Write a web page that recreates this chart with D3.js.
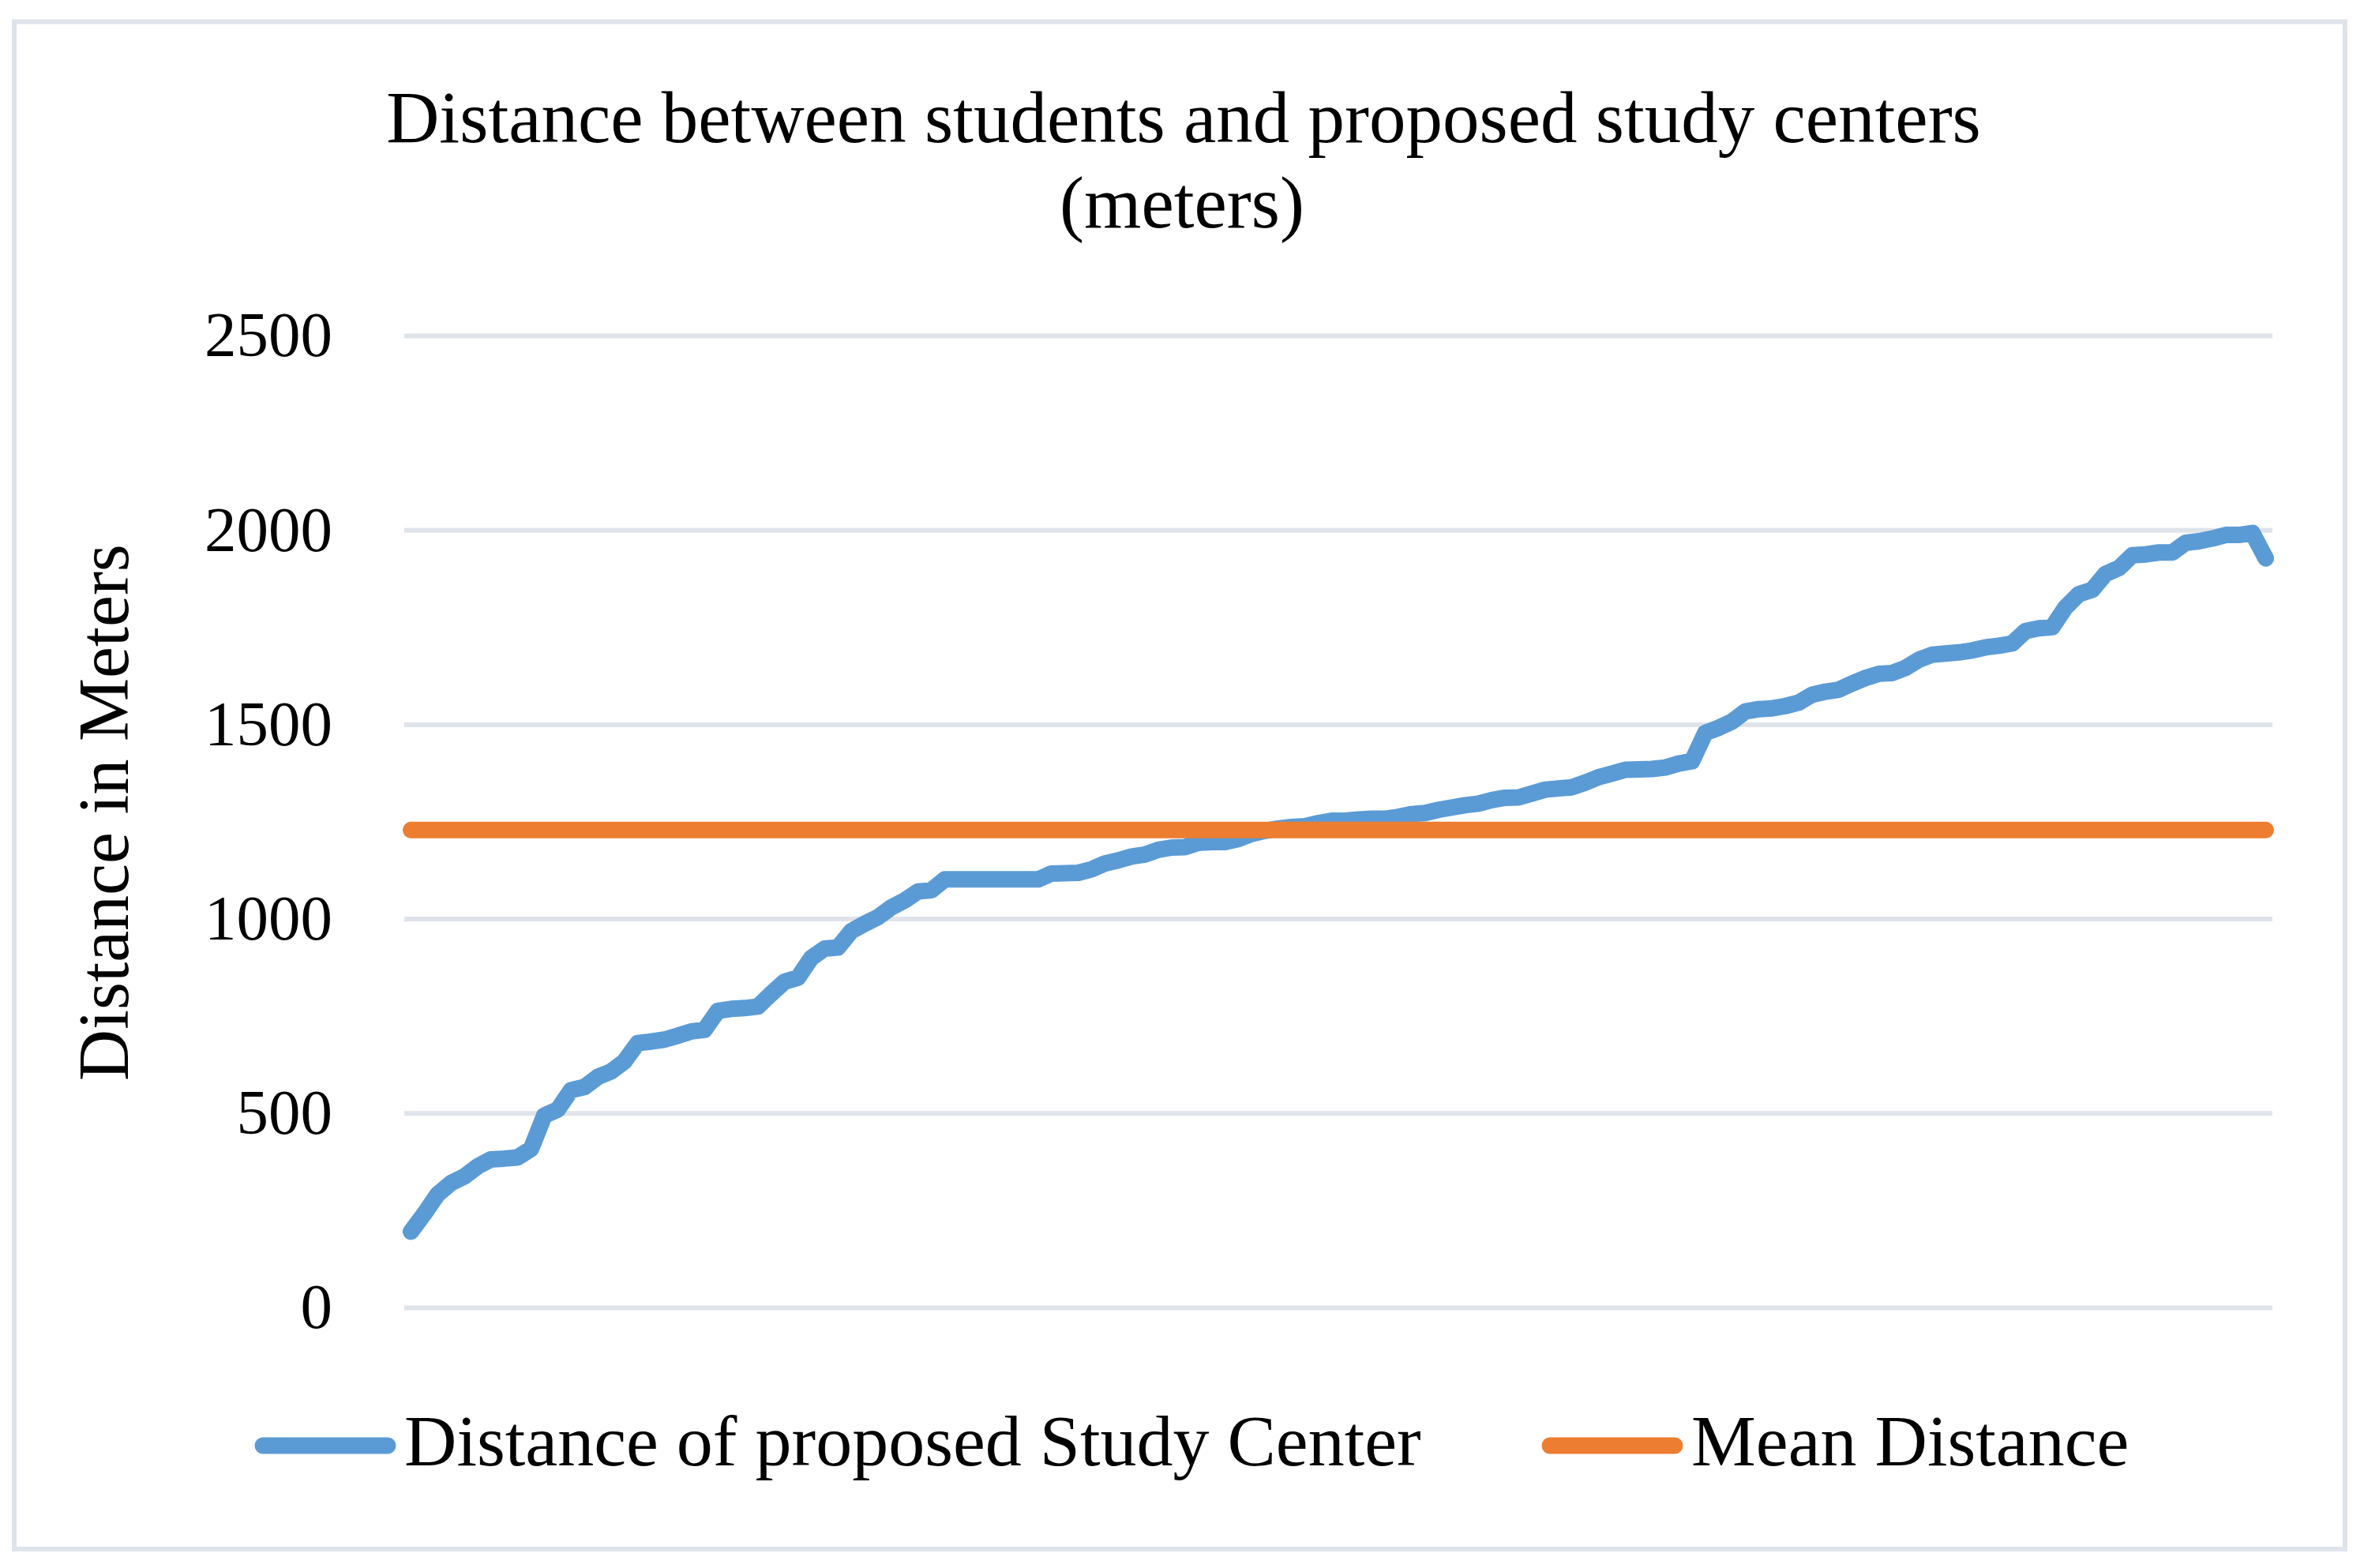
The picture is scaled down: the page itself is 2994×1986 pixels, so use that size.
<!DOCTYPE html>
<html>
<head>
<meta charset="utf-8">
<script src="https://cdn.jsdelivr.net/npm/d3@7"></script>
<style>
  body { margin: 0; background: #fff; }
  text { font-family: "Liberation Serif", "Times New Roman", serif; fill: #000; }
  .grid line { stroke: #dfe3ea; stroke-width: 6; }
</style>
</head>
<body>
<script>
// data: one value per student, sorted (last one drops)
var categories = d3.range(1, 141)
var distances = [
  195, 241, 291, 320, 337, 363, 381, 383, 386, 408,
  494, 509, 559, 567, 593, 607, 633, 680, 684, 689,
  699, 710, 714, 763, 768, 770, 774, 807, 838, 848,
  899, 923, 926, 968, 987, 1004, 1029, 1047, 1070, 1073,
  1101, 1101, 1101, 1101, 1101, 1101, 1101, 1101, 1116, 1117,
  1118, 1127, 1142, 1150, 1160, 1165, 1177, 1183, 1184, 1195,
  1197, 1197, 1205, 1218, 1226, 1232, 1236, 1238, 1246, 1252,
  1252, 1255, 1257, 1257, 1262, 1269, 1272, 1280, 1286, 1292,
  1296, 1305, 1311, 1312, 1322, 1332, 1335, 1338, 1350, 1364,
  1373, 1383, 1384, 1385, 1389, 1399, 1405, 1478, 1491, 1507,
  1533, 1539, 1541, 1547, 1556, 1576, 1584, 1589, 1605, 1619,
  1630, 1632, 1645, 1666, 1679, 1682, 1685, 1690, 1698, 1702,
  1708, 1740, 1747, 1750, 1801, 1835, 1846, 1887, 1902, 1935,
  1937, 1942, 1942, 1967, 1971, 1978, 1987, 1987, 1992, 1927
]
var meanDistance = 1228
var yTicks = [0, 500, 1000, 1500, 2000, 2500]
var seriesNames = ['Distance of proposed Study Center', 'Mean Distance']
var seriesColors = ['#5b9bd5', '#ed7d31']

var w = 2994,
    h = 1986,
    plotLeft = 512,
    plotRight = 2878,
    plotTop = 425, //y of 2500
    plotBottom = 1656, //y of 0
    lineWidth = 21

var svg = d3.select('body').append('svg')
    .attr('width', w)
    .attr('height', h)

//outer chart border
svg.append('rect')
    .attr('x', 18)
    .attr('y', 27.5)
    .attr('width', 2952)
    .attr('height', 1934.5)
    .attr('fill', '#fff')
    .attr('stroke', '#dfe3ea')
    .attr('stroke-width', 6)

var x = d3.scalePoint()
    .domain(categories)
    .range([plotLeft, plotRight])
    .padding(0.5)

var y = d3.scaleLinear()
    .domain([0, 2500])
    .range([plotBottom, plotTop])

//gridlines + tick labels
var yAxis = svg.append('g')
    .attr('class', 'grid')
    .attr('transform', 'translate(' + plotLeft + ',0)')
    .call(d3.axisLeft(y)
        .tickValues(yTicks)
        .tickSize(-(plotRight - plotLeft))
        .tickPadding(91)
        .tickFormat(d3.format('d')))

yAxis.select('.domain').remove()
yAxis.selectAll('text')
    .style('font-size', '81px')
    .style('font-family', '"Liberation Serif", "Times New Roman", serif')
    .attr('fill', '#000')

var line = d3.line()
    .x(function(d, i) { return x(categories[i]) })
    .y(function(d) { return y(d) })

svg.append('path')
    .datum(distances)
    .attr('d', line)
    .attr('fill', 'none')
    .attr('stroke', seriesColors[0])
    .attr('stroke-width', lineWidth)
    .attr('stroke-linejoin', 'round')
    .attr('stroke-linecap', 'round')

svg.append('path')
    .datum(categories.map(function() { return meanDistance }))
    .attr('d', line)
    .attr('fill', 'none')
    .attr('stroke', seriesColors[1])
    .attr('stroke-width', lineWidth)
    .attr('stroke-linecap', 'round')

//title
svg.append('text')
    .attr('x', 1499)
    .attr('y', 180)
    .attr('text-anchor', 'middle')
    .style('font-size', '93px')
    .text('Distance between students and proposed study centers')

svg.append('text')
    .attr('x', 1497)
    .attr('y', 288)
    .attr('text-anchor', 'middle')
    .style('font-size', '93px')
    .text('(meters)')

//y axis title
svg.append('text')
    .attr('transform', 'translate(162,1029) rotate(-90)')
    .attr('text-anchor', 'middle')
    .style('font-size', '90px')
    .text('Distance in Meters')

//legend
var legendX = [333, 1963]
var legend = svg.selectAll('.legend')
    .data(seriesNames)
    .enter()
    .append('g')
    .attr('class', 'legend')
    .attr('transform', function(d, i) { return 'translate(' + legendX[i] + ',1831)' })

legend.append('line')
    .attr('x1', 0)
    .attr('x2', 158)
    .attr('stroke', function(d, i) { return seriesColors[i] })
    .attr('stroke-width', lineWidth)
    .attr('stroke-linecap', 'round')

legend.append('text')
    .attr('x', 179)
    .attr('y', 25)
    .style('font-size', '92px')
    .text(function(d) { return d })
</script>
</body>
</html>
